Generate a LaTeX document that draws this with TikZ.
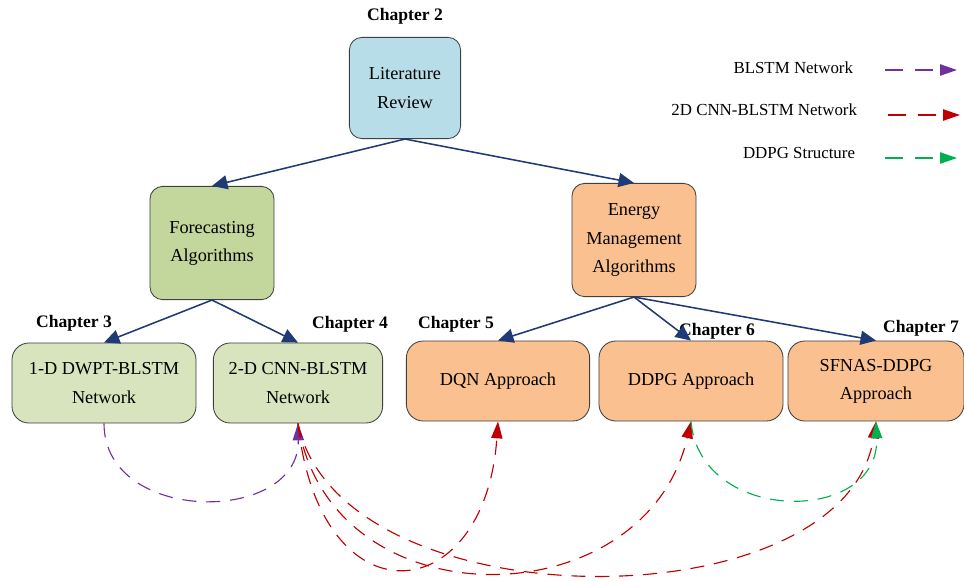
\documentclass[tikz,border=0pt]{standalone}
\usepackage{fontspec}
\setmainfont{Liberation Serif}
\usetikzlibrary{arrows.meta,positioning}
\definecolor{LitBlue} {HTML}{B7DEE8}
\definecolor{FcGreen} {HTML}{C3D69B}
\definecolor{LtGreen} {HTML}{D7E4BD}
\definecolor{EmOrange}{HTML}{FAC090}
\definecolor{Edge}    {HTML}{404040}
\definecolor{Navy}    {HTML}{1F3A74}
\definecolor{BlPurple}{HTML}{7030A0}
\definecolor{CnnRed}  {HTML}{C00000}
\definecolor{DdGreen} {HTML}{00B050}

\begin{document}
\begin{tikzpicture}[x=0.025cm,y=-0.025cm,
  box/.style={draw=Edge,line width=0.6pt,rectangle,rounded corners=9pt,
    align=center,inner sep=2pt,font=\fontsize{13}{20}\selectfont},
  top/.style={box,minimum width=3.1cm,minimum height=2.83cm},
  low/.style={box,minimum height=2cm,rounded corners=12pt},
  chap/.style={font=\fontsize{12.5}{15}\selectfont\bfseries},
  lgd/.style={anchor=east,font=\fontsize{12}{14}\selectfont},
  arr/.style={-{Triangle[length=11pt,width=10pt]},line width=1.1pt,draw=Navy},
  dsh/.style={line width=0.8pt,dash pattern=on 10pt off 7pt,
    -{Triangle[length=12pt,width=8pt]}},
  key/.style={line width=1pt,dash pattern=on 13pt off 8pt},
  blstm/.style={dsh,draw=BlPurple},
  cnn/.style={dsh,draw=CnnRed},
  ddpg/.style={dsh,draw=DdGreen}
]
\useasboundingbox (0,0) rectangle (964,580);
% tree
\node[box,fill=LitBlue,minimum width=2.78cm,minimum height=2.53cm](lit) at (405,88){Literature\\Review};
\node[chap,above=0.2cm of lit](c2){Chapter 2};
\node[top,fill=FcGreen](fore) at (212,243){Forecasting\\Algorithms};
\node[top,fill=EmOrange](ems) at (634,240){Energy\\Management\\Algorithms};
\node[low,fill=LtGreen,minimum width=4.6cm](dwpt) at (104,383){1-D DWPT-BLSTM\\Network};
\node[low,fill=LtGreen,minimum width=4.23cm](cnnb) at (298,383){2-D CNN-BLSTM\\Network};
\node[low,fill=EmOrange,minimum width=4.58cm](dqn) at (498,381){DQN Approach};
\node[low,fill=EmOrange,minimum width=4.6cm](ddpgb) at (691,381){DDPG Approach};
\node[low,fill=EmOrange,minimum width=4.4cm](sfnas) at (876,381){SFNAS-DDPG\\Approach};
\node[chap](c3) at (74,323){Chapter 3};
\node[chap](c4) at (350,324){Chapter 4};
\node[chap](c5) at (456,324){Chapter 5};
\node[chap](c6) at (717,331){Chapter 6};
\node[chap](c7) at (921,328){Chapter 7};
\draw[arr](lit.south)--(fore.north);\draw[arr](lit.south)--(ems.north);
\draw[arr](fore.south)--(dwpt.north);\draw[arr](fore.south)--(cnnb.north);
\draw[arr](ems.south)--(dqn.north);\draw[arr](ems.south)--(ddpgb.north);
\draw[arr](ems.south)--(sfnas.north);
% links
\draw[blstm](dwpt.south) .. controls (104,525) and (300,525) .. (cnnb.south);
\draw[cnn](cnnb.south) .. controls (320,625) and (485,610) .. (dqn.south);
\draw[cnn](cnnb.south) .. controls (330,625) and (645,620) .. (ddpgb.south);
\draw[cnn](cnnb.south) .. controls (340,625) and (845,625) .. (sfnas.south);
\draw[ddpg](ddpgb.south) .. controls (700,525) and (880,525) .. (sfnas.south);
% legend
\node[lgd](l1) at (858,68){BLSTM Network};
\node[lgd](l2) at (862,110){2D CNN-BLSTM Network};
\node[lgd](l3) at (860,153){DDPG Structure};
\coordinate (a1) at (885,70);\coordinate (b1) at (957,70);
\coordinate (a2) at (888,115);\coordinate (b2) at (960,115);
\coordinate (a3) at (885,158);\coordinate (b3) at (957,158);
\draw[blstm,key](a1)--(b1);\draw[cnn,key](a2)--(b2);\draw[ddpg,key](a3)--(b3);
\end{tikzpicture}
\end{document}
